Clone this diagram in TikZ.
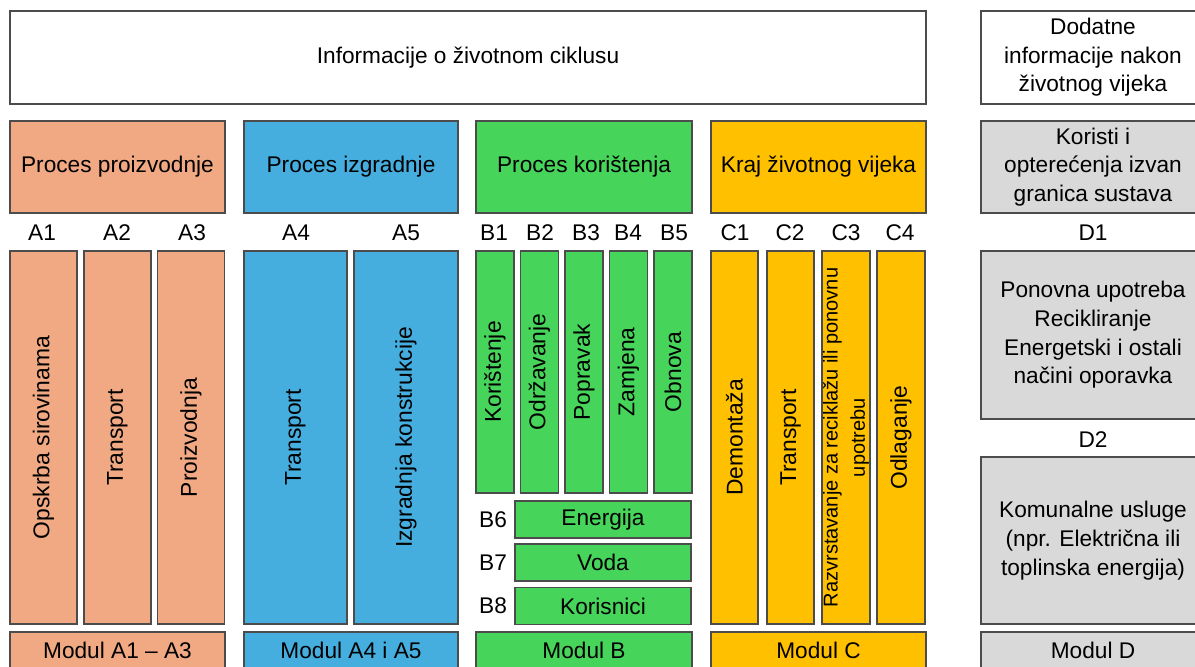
\documentclass[tikz,border=0pt]{standalone}
\usepackage{fontspec}
\setmainfont{Liberation Sans}
\newfontfamily\arialfont{Liberation Sans}
\usetikzlibrary{positioning}

\definecolor{proizv}{HTML}{F1A983}
\definecolor{izgr}{HTML}{45AEDF}
\definecolor{koris}{HTML}{47D45A}
\definecolor{kraj}{HTML}{FFC000}
\definecolor{dodat}{HTML}{D9D9D9}

\begin{document}
\begin{tikzpicture}[
  x=0.02cm, y=-0.02cm,
  every node/.style={font=\fontsize{12.9}{16.3}\selectfont},
  box/.style={draw=black!70, line width=0.6pt, inner sep=1pt, align=center},
  sz/.style 2 args={minimum width=#1*0.02cm, minimum height=#2*0.02cm},
  vbox/.style={rotate=90, font=\arialfont\fontsize{13}{15}\selectfont},
  lbl/.style={inner sep=0pt}
]
  \useasboundingbox (0,0) rectangle (1195,666);

  % gornji red
  \node[box, sz={916}{93}] (info) at (468,57.5) {Informacije o životnom ciklusu};
  \node[box, sz={224}{93}] (dodatne) at (1093,57.5)
    {Dodatne\\informacije nakon\\životnog vijeka};

  % procesi
  \node[box, fill=proizv, sz={215}{92}] (proizv) at (117.5,167) {Proces proizvodnje};
  \node[box, fill=izgr, sz={214}{92}] (izgr) at (351,167) {Proces izgradnje};
  \node[box, fill=koris, sz={216}{92}] (koris) at (584,167) {Proces korištenja};
  \node[box, fill=kraj, sz={215}{92}] (kraj) at (818.5,167) {Kraj životnog vijeka};
  \node[box, fill=dodat, sz={224}{92}] (koristi) at (1093,167)
    {Koristi i\\opterećenja izvan\\granica sustava};

  % oznake modula
  \foreach \x/\t in {42/A1,117/A2,192/A3,296/A4,406/A5,494/B1,540/B2,586/B3,
                     628/B4,674/B5,735/C1,790/C2,846/C3,900/C4,1093/D1}
    \node[lbl] (l\t) at (\x,233) {\t};

  % A1 - A5
  \foreach \x/\t [count=\i] in {43.5/Opskrba sirovinama,117.5/Transport,191/Proizvodnja}
    \node[box, vbox, fill=proizv, sz={373}{67}] (a\i) at (\x,437.5) {\t};
  \node[box, vbox, fill=izgr, sz={373}{103}] (a4) at (295.5,437.5) {Transport};
  \node[box, vbox, fill=izgr, sz={373}{104}] (a5) at (406,437.5) {Izgradnja konstrukcije};

  % B1 - B8
  \foreach \t [count=\i] in {Korištenje,Održavanje,Popravak,Zamjena,Obnova}
    \node[box, vbox, fill=koris, sz={242}{38}] (b\i) at ({495+44.5*(\i-1)},372) {\t};
  \foreach \y/\t [count=\i from 6] in {519.5/Energija,562.5/Voda,606/Korisnici} {
    \node[box, fill=koris, sz={176}{37}] (b\i) at (603,\y) {\t};
    \node[lbl] (lB\i) at (493,\y) {B\i};
  }

  % C1 - C4
  \foreach \x/\t [count=\i] in {734.5/Demontaža,790.5/Transport}
    \node[box, vbox, fill=kraj, sz={373}{47}] (c\i) at (\x,437.5) {\t};
  \node[box, vbox, fill=kraj, sz={373}{48}, inner sep=0pt,
        font=\arialfont\fontsize{11.4}{15.5}\selectfont]
    (c3) at (846,437.5) {Razvrstavanje za reciklažu ili ponovnu\\upotrebu};
  \node[box, vbox, fill=kraj, sz={373}{48}] (c4) at (901,437.5) {Odlaganje};

  % D1 - D2
  \node[box, fill=dodat, sz={224}{168}] (d1) at (1093,335)
    {Ponovna upotreba\\Recikliranje\\Energetski i ostali\\načini oporavka};
  \node[lbl] (lD2) at (1093,440) {D2};
  \node[box, fill=dodat, sz={224}{167}] (d2) at (1093,540.5)
    {Komunalne usluge\\(npr. Električna ili\\toplinska energija)};

  % moduli
  \node[box, fill=proizv, sz={215}{36}] (mA13) at (117.5,650) {Modul A1 – A3};
  \node[box, fill=izgr, sz={214}{36}] (mA45) at (351,650) {Modul A4 i A5};
  \node[box, fill=koris, sz={216}{36}] (mB) at (584,650) {Modul B};
  \node[box, fill=kraj, sz={215}{36}] (mC) at (818.5,650) {Modul C};
  \node[box, fill=dodat, sz={224}{36}] (mD) at (1093,650) {Modul D};
\end{tikzpicture}
\end{document}
